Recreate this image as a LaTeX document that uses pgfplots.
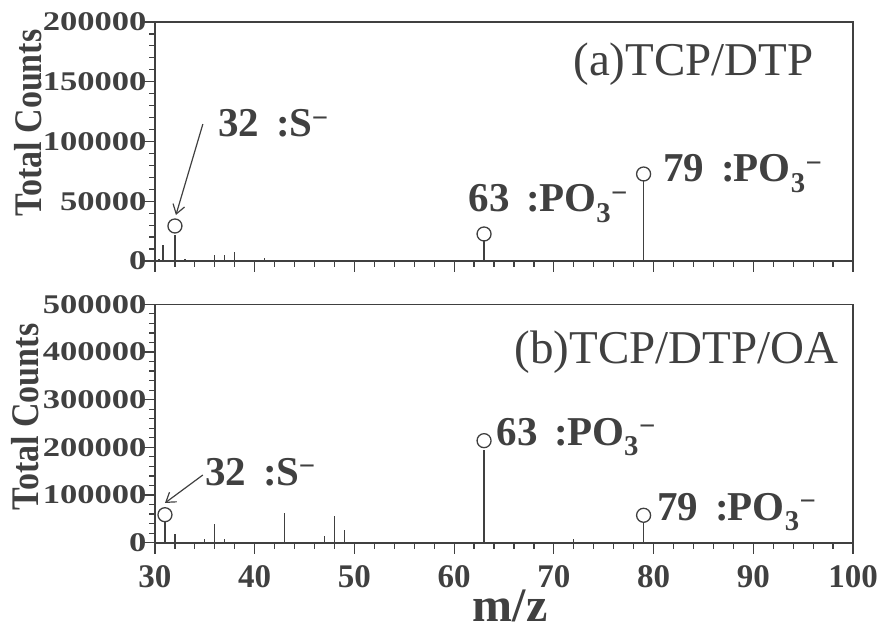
\documentclass[border=0pt]{standalone}
\usepackage{pgfplots}
\pgfplotsset{compat=1.18}
\usetikzlibrary{arrows.meta}
\usepackage{fontspec}
\setmainfont{Liberation Serif}
\definecolor{ink}{RGB}{64,64,64}

\newcommand{\annfont}{\fontsize{41}{44}\selectfont\bfseries}
\newcommand{\panelfont}{\fontsize{47}{50}\selectfont}
\newcommand{\po}{PO\textsubscript{3}\textsuperscript{−}}

\pgfplotsset{
  specstyle/.style={
    scale only axis, width=698pt,
    xmin=30, xmax=100,
    xtick={30,40,...,100}, minor x tick num=4,
    minor y tick num=4,
    xtick pos=bottom, ytick pos=left,
    tick align=outside,
    major tick length=11pt, minor tick length=6pt,
    every tick/.style={ink, line width=1.2pt},
    axis line style={ink, line width=1.6pt},
    scaled y ticks=false,
    /pgf/number format/fixed,
    /pgf/number format/precision=0,
    /pgf/number format/assume math mode=true,
    /pgf/number format/1000 sep={},
    yticklabel={\scalebox{1.28}[1]{\pgfmathprintnumber{\tick}}},
    yticklabel style={font=\fontsize{27}{28}\selectfont\bfseries, text=ink, anchor=east, xshift=6pt},
    xticklabel style={font=\fontsize{33}{34}\selectfont\bfseries, text=ink, yshift=-8pt},
    clip=false,
  },
  stem/.style={ycomb, ink, line width=1.2pt, mark=none},
  ring/.style={only marks, mark=o, mark size=7pt, mark options={ink, line width=1.3pt}},
}

\begin{document}
\begin{tikzpicture}
\useasboundingbox (0,0) rectangle (880pt,637pt);

% (a) TCP/DTP
\begin{axis}[specstyle, at={(155pt,376pt)}, anchor=south west,
  height=239pt, ymin=0, ymax=200000,
  ytick={0,50000,...,200000}, xticklabels={}]
  \addplot[stem] coordinates {
    (30.4,1500)(30.8,13400)(31.4,1200)(32,21800)(33,2000)(34,1000)
    (36,4800)(37,5000)(38,7800)(41,2500)(45,800)(52,1000)(56,800)
    (57,1000)(60,700)(63,17600)(74,1000)(79,67800)(85,800)(88,1000)
    (94,700)(97,800)
  };
  \addplot[ring] coordinates {(32,29300)(63,22600)(79,72800)};
  \node[anchor=base east, font=\panelfont, text=ink] at (axis cs:96.4,155600) {(a)TCP/DTP};
  \node[anchor=base west, font=\annfont, text=ink] at (axis cs:36.0,103800) {32 \,:\kern-1pt S\textsuperscript{−}};
  \node[anchor=base west, font=\annfont, text=ink] at (axis cs:61.1,41300) {63 \,:\kern-1pt\po};
  \node[anchor=base west, font=\annfont, text=ink] at (axis cs:80.6,66400) {79 \,:\kern-1pt\po};
  \draw[ink, line width=1.2pt, -{Straight Barb[length=9pt,width=12pt]}] (axis cs:34.8,114600) -- (axis cs:32.1,38500);
  \node[rotate=90, font=\fontsize{34}{36}\selectfont\bfseries, text=ink] at (axis cs:17.3,115500) {\scalebox{1}[1.15]{Total Counts}};
\end{axis}

% (b) TCP/DTP/OA
\begin{axis}[specstyle, at={(155pt,94.3pt)}, anchor=south west,
  height=238.4pt, ymin=0, ymax=500000,
  ytick={0,100000,...,500000}]
  \addplot[stem] coordinates {
    (30.4,2000)(31,43400)(32,17600)(33,1500)(35,8000)(36,40000)(37,8000)
    (39,1500)(41,1500)(43,63000)(47,14700)(48,56000)(49,26000)(50,2000)
    (55,1500)(63,193800)(72,7000)(79,42000)
  };
  \addplot[ring] coordinates {(31,58700)(63,214000)(79,57500)};
  \node[anchor=base east, font=\panelfont, text=ink] at (axis cs:98.9,376200) {(b)TCP/DTP/OA};
  \node[anchor=base west, font=\annfont, text=ink] at (axis cs:34.7,121000) {32 \,:\kern-1pt S\textsuperscript{−}};
  \node[anchor=base west, font=\annfont, text=ink] at (axis cs:63.9,204900) {63 \,:\kern-1pt\po};
  \node[anchor=base west, font=\annfont, text=ink] at (axis cs:80.0,47600) {79 \,:\kern-1pt\po};
  \draw[ink, line width=1.2pt, -{Straight Barb[length=9pt,width=12pt]}] (axis cs:34.8,142000) -- (axis cs:31.0,83300);
  \node[rotate=90, font=\fontsize{34}{36}\selectfont\bfseries, text=ink] at (axis cs:17.0,263600) {\scalebox{1}[1.15]{Total Counts}};
  \node[anchor=base, font=\fontsize{48}{50}\selectfont\bfseries, text=ink] at (axis cs:65.6,-166300) {m/z};
\end{axis}
\end{tikzpicture}
\end{document}
